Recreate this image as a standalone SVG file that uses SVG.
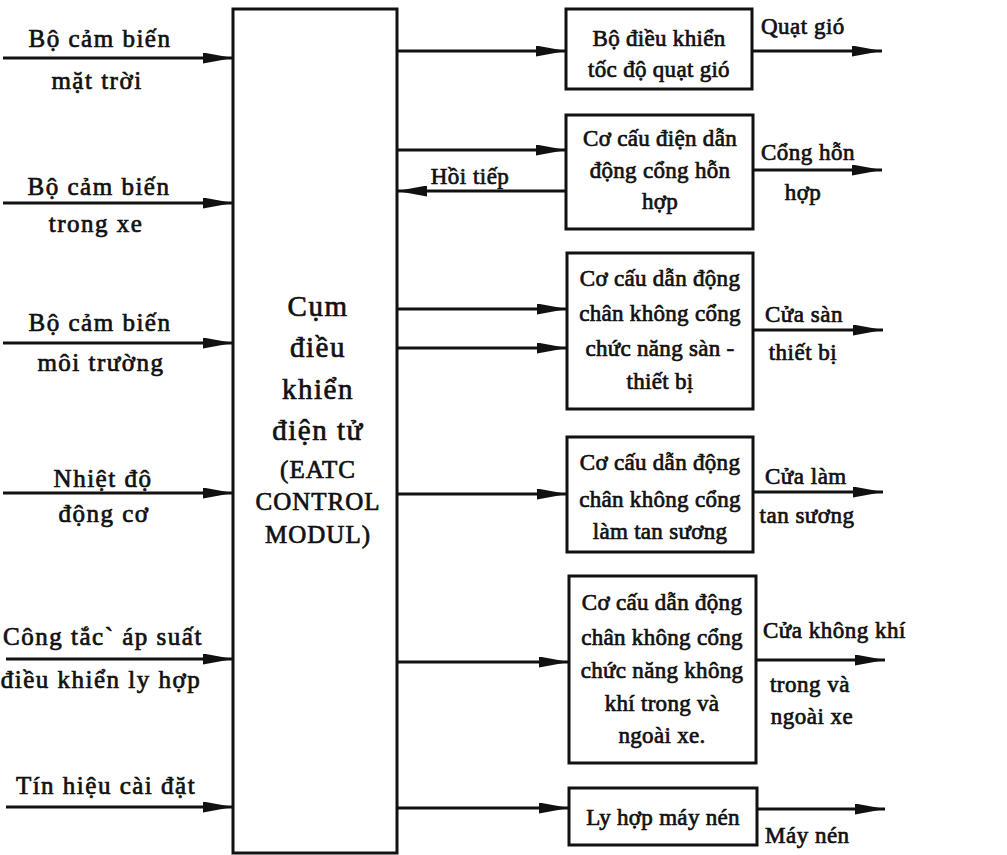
<svg xmlns="http://www.w3.org/2000/svg" width="1007" height="855" viewBox="0 0 1007 855">
<style>
text{font-family:"Liberation Serif","Times New Roman",serif;fill:#111;stroke:#111;stroke-width:0.7}
.lbl{font-size:25px;letter-spacing:1.5px;text-anchor:middle}
.box{fill:#fff;stroke:#111;stroke-width:3}
.bt{font-size:23px;letter-spacing:0.3px;text-anchor:middle}
.ct{font-size:29px;letter-spacing:1.5px;text-anchor:middle}
.ce{font-size:25px;letter-spacing:1px;text-anchor:middle}
.out{font-size:23px;letter-spacing:0.5px}
.ln{stroke:#111;stroke-width:2.8;fill:none;marker-end:url(#ah)}
</style>
<defs>
<marker id="ah" markerUnits="userSpaceOnUse" markerWidth="30" markerHeight="11" refX="30" refY="5.5" orient="auto">
<path d="M0,0 L30,5.5 L0,11 z" fill="#111"/>
</marker>
</defs>
<rect width="1007" height="855" fill="#fff"/>
<g id="connectors">
<path class="ln" d="M3,58 H233"/>
<path class="ln" d="M3,203 H233"/>
<path class="ln" d="M3,343 H233"/>
<path class="ln" d="M3,493 H233"/>
<path class="ln" d="M6,659 H233"/>
<path class="ln" d="M6,807 H233"/>
<path class="ln" d="M397,51 H566"/>
<path class="ln" d="M397,150 H566"/>
<path class="ln" d="M566,191 H397"/>
<path class="ln" d="M397,309 H567"/>
<path class="ln" d="M397,348 H567"/>
<path class="ln" d="M397,494 H567"/>
<path class="ln" d="M397,662 H569"/>
<path class="ln" d="M397,808 H569"/>
<path class="ln" d="M752,51 H882"/>
<path class="ln" d="M753,170 H882"/>
<path class="ln" d="M753,330 H883"/>
<path class="ln" d="M753,492 H883"/>
<path class="ln" d="M756,660 H885"/>
<path class="ln" d="M757,809 H885"/>
</g>
<g id="inputs">
<text class="lbl" x="100" y="47">Bộ cảm biến</text>
<text class="lbl" x="97" y="89">mặt  trời</text>
<text class="lbl" x="99" y="195">Bộ cảm biến</text>
<text class="lbl" x="96" y="232">trong xe</text>
<text class="lbl" x="100" y="331">Bộ cảm biến</text>
<text class="lbl" x="101" y="371">môi trường</text>
<text class="lbl" x="103" y="487">Nhiệt độ</text>
<text class="lbl" x="104" y="522">động cơ</text>
<text class="lbl" x="103" y="645">Công tắc` áp suất</text>
<text class="lbl" x="101" y="688">điều khiển ly hợp</text>
<text class="lbl" x="106" y="794">Tín hiệu cài đặt</text>
</g>
<g id="ecu">
<rect class="box" x="233" y="9" width="164" height="844"/>
<text class="ct" x="318" y="316">Cụm</text>
<text class="ct" x="318" y="357">điều</text>
<text class="ct" x="318" y="399">khiển</text>
<text class="ct" x="318" y="440">điện tử</text>
<text class="ce" x="318" y="478">(EATC</text>
<text class="ce" x="318" y="510">CONTROL</text>
<text class="ce" x="318" y="543">MODUL)</text>
</g>
<g id="feedback-label">
<text class="out" x="470" y="184" text-anchor="middle">Hồi tiếp</text>
</g>
<g id="fan-ctrl">
<rect class="box" x="566" y="9" width="186" height="80"/>
<text class="bt" x="659" y="46">Bộ điều khiển</text>
<text class="bt" x="659" y="77">tốc độ quạt gió</text>
</g>
<g id="blend-door">
<rect class="box" x="566" y="115" width="187" height="114"/>
<text class="bt" x="660" y="146">Cơ cấu điện dẫn</text>
<text class="bt" x="660" y="178">động cổng hỗn</text>
<text class="bt" x="660" y="209">hợp</text>
</g>
<g id="floor-door">
<rect class="box" x="567" y="253" width="186" height="156"/>
<text class="bt" x="660" y="286">Cơ cấu dẫn động</text>
<text class="bt" x="660" y="321">chân không cổng</text>
<text class="bt" x="660" y="356">chức năng sàn -</text>
<text class="bt" x="660" y="389">thiết bị</text>
</g>
<g id="defrost-door">
<rect class="box" x="567" y="437" width="186" height="115"/>
<text class="bt" x="660" y="470">Cơ cấu dẫn động</text>
<text class="bt" x="660" y="507">chân không cổng</text>
<text class="bt" x="660" y="539">làm tan sương</text>
</g>
<g id="air-door">
<rect class="box" x="569" y="576" width="187" height="187"/>
<text class="bt" x="662" y="610">Cơ cấu dẫn động</text>
<text class="bt" x="662" y="645">chân không cổng</text>
<text class="bt" x="662" y="678">chức năng không</text>
<text class="bt" x="662" y="711">khí trong và</text>
<text class="bt" x="662" y="743">ngoài xe.</text>
</g>
<g id="clutch">
<rect class="box" x="569" y="788" width="188" height="57"/>
<text class="bt" x="663" y="825">Ly hợp máy nén</text>
</g>
<g id="outputs">
<text class="out" x="761" y="34">Quạt gió</text>
<text class="out" x="761" y="160">Cổng hỗn</text>
<text class="out" x="803" y="200" text-anchor="middle">hợp</text>
<text class="out" x="765" y="322">Cửa sàn</text>
<text class="out" x="803" y="360" text-anchor="middle">thiết bị</text>
<text class="out" x="765" y="484">Cửa làm</text>
<text class="out" x="807" y="523" text-anchor="middle">tan sương</text>
<text class="out" x="763" y="638">Cửa không khí</text>
<text class="out" x="810" y="692" text-anchor="middle">trong và</text>
<text class="out" x="812" y="724" text-anchor="middle">ngoài xe</text>
<text class="out" x="765" y="843">Máy nén</text>
</g>
</svg>
